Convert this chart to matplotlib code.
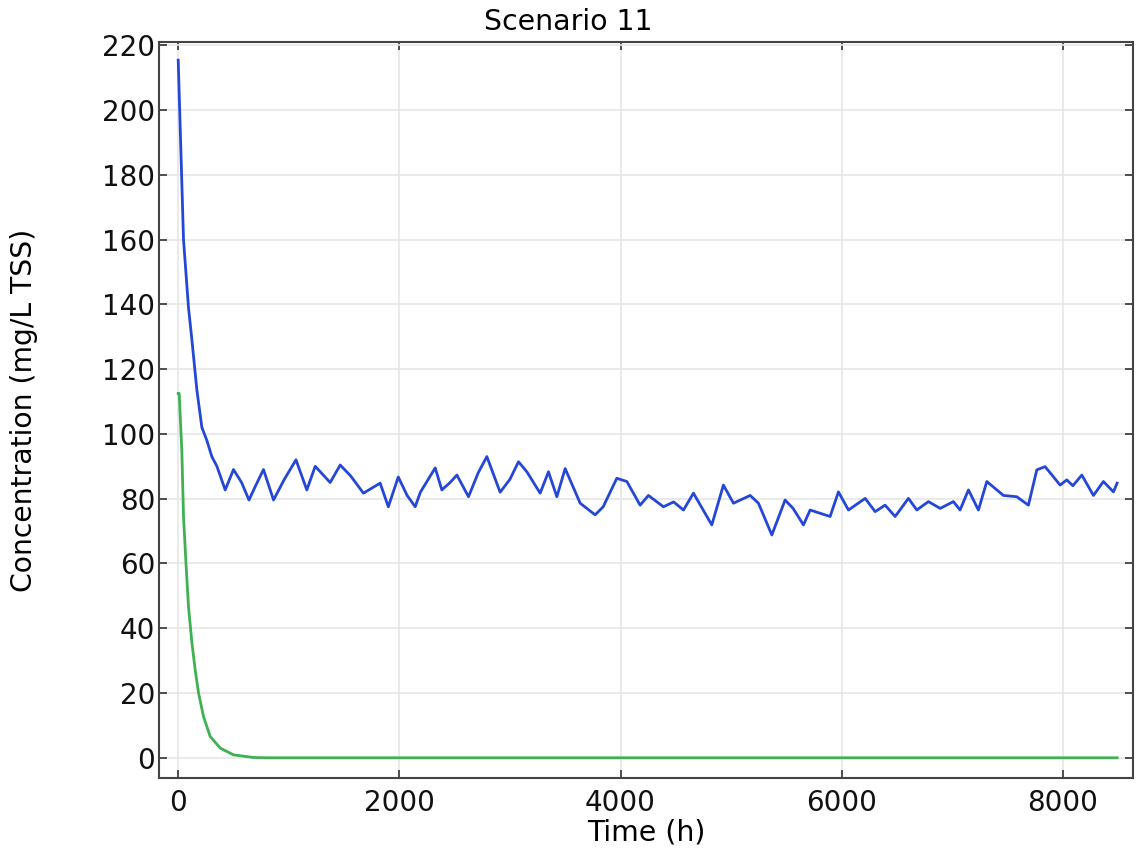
import matplotlib
matplotlib.use("Agg")
import matplotlib.pyplot as plt

# blue series (time in h, concentration in mg/L TSS)
blue_t = [0, 48, 93, 124, 169, 214, 259, 304, 350, 425,
          500, 573, 640, 700, 771, 862, 960, 1065, 1163, 1239,
          1374, 1465, 1560, 1675, 1826, 1900, 1990, 2070, 2143, 2190,
          2324, 2384, 2459, 2520, 2625, 2713, 2791, 2911, 3000, 3077,
          3153, 3273, 3348, 3424, 3499, 3635, 3770, 3843, 3966, 4057,
          4177, 4252, 4388, 4480, 4569, 4659, 4825, 4930, 5021, 5172,
          5247, 5368, 5488, 5560, 5654, 5714, 5895, 5970, 6061, 6212,
          6302, 6392, 6483, 6603, 6679, 6784, 6890, 7010, 7070, 7146,
          7236, 7312, 7462, 7583, 7688, 7764, 7839, 7975, 8035, 8090,
          8171, 8276, 8366, 8457, 8490]
blue_c = [215.4, 160, 139, 129, 113.5, 102, 98, 93, 90, 82.7,
          89, 85, 79.6, 84, 89, 79.6, 86, 92, 82.7, 90,
          85, 90.4, 87, 81.7, 84.8, 77.5, 86.7, 81, 77.5, 82,
          89.5, 82.7, 85, 87.3, 80.6, 88, 93, 82, 86, 91.4,
          88.3, 81.7, 88.3, 80.6, 89.3, 78.6, 75, 77.5, 86.3, 85.3,
          78, 81, 77.5, 79, 76.5, 81.7, 71.9, 84.2, 78.6, 81,
          78.6, 68.8, 79.6, 77, 71.9, 76.5, 74.5, 82.1, 76.5, 80.1,
          76, 78, 74.5, 80.1, 76.5, 79.1, 77, 79.1, 76.5, 82.7,
          76.5, 85.3, 81, 80.6, 78, 88.9, 89.9, 84.2, 85.8, 84,
          87.3, 81, 85.3, 82.1, 84.8]

# green series
green_t = [0, 9, 33, 48, 72, 93, 124, 154, 184, 229, 289, 380, 500, 680, 800, 8490]
green_c = [112.5, 112.5, 94.5, 74.5, 59, 46.7, 35.5, 27, 20, 12.7, 6.6, 3, 0.9, 0.1, 0, 0]

x_ticks = [0, 2000, 4000, 6000, 8000]
y_ticks = list(range(0, 221, 20))

plt.rcParams['font.family'] = ['DejaVu Sans']

fig = plt.figure(figsize=(11.37, 8.52), dpi=100)
ax = fig.add_axes([0.14, 0.087, 0.8565, 0.8637])

ax.plot(blue_t, blue_c, color='#2447d8', lw=2.0)
ax.plot(green_t, green_c, color='#3fb152', lw=2.0)

ax.set_xlim(-172, 8634)
ax.set_ylim(-6.2, 221)
ax.set_xticks(x_ticks)
ax.set_yticks(y_ticks)
ax.grid(True, color='#e6e6e6', lw=1.2)
ax.set_axisbelow(True)

ax.tick_params(direction='in', length=6, width=1.2, labelsize=20,
               top=True, right=True, color='#333333', labelcolor='#111111', pad=3)
ax.tick_params(axis='x', pad=8)
for s in ax.spines.values():
    s.set_color('#444444')
    s.set_linewidth(1.5)

ax.set_xlabel('Time (h)', fontsize=20.4, labelpad=1)
ax.set_ylabel('Concentration (mg/L TSS)', fontsize=20.3, labelpad=46)
fig.text(0.5, 0.974, 'Scenario 11', ha='center', va='center', fontsize=20.4)

fig.savefig('out.png', dpi=100)
